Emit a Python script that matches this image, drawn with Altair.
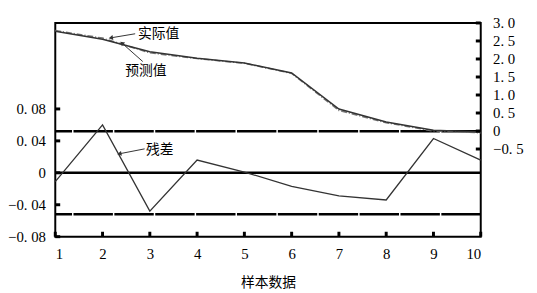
import altair as alt
import pandas as pd

samples = list(range(1, 11))
actual = [2.77, 2.55, 2.20, 2.02, 1.89, 1.61, 0.61, 0.25, 0.02, -0.03]
predicted = [2.79, 2.58, 2.17, 2.01, 1.88, 1.60, 0.57, 0.23, 0.00, -0.05]
residual = [-0.011, 0.060, -0.048, 0.016, 0.001, -0.017, -0.029, -0.034, 0.043, 0.016]
band = [0.052, -0.052]
left_ticks = [-0.08, -0.04, 0, 0.04, 0.08]
right_ticks = [-0.5, 0, 0.5, 1.0, 1.5, 2.0, 2.5, 3.0]

# annotations (data coordinates)
val_labels = ["实际值", "预测值"]
val_label_x = [2.75, 2.48]
val_label_y = [2.70, 1.66]
val_arrow_x = [2.69, 2.85]
val_arrow_y = [2.70, 1.93]
val_arrow_x2 = [2.19, 2.42]
val_arrow_y2 = [2.59, 2.43]
val_arrow_angle = [260, 311]

res_label = ["残差"]
res_label_x = [2.92]
res_label_y = [0.028]
res_arrow_x = [2.89]
res_arrow_y = [0.030]
res_arrow_x2 = [2.37]
res_arrow_y2 = [0.024]
res_arrow_angle = [259]

df = pd.DataFrame({"s": samples, "actual": actual, "predicted": predicted, "residual": residual})
band_df = pd.DataFrame({"v": band})
zero_df = pd.DataFrame({"v": [0]})
lt_df = pd.DataFrame({"v": left_ticks})
rt_df = pd.DataFrame({"v": right_ticks})
st_df = pd.DataFrame({"s": samples})
vlab_df = pd.DataFrame({"t": val_labels, "x": val_label_x, "y": val_label_y})
varr_df = pd.DataFrame({"x": val_arrow_x, "y": val_arrow_y, "x2": val_arrow_x2, "y2": val_arrow_y2, "ang": val_arrow_angle})
rlab_df = pd.DataFrame({"t": res_label, "x": res_label_x, "y": res_label_y})
rarr_df = pd.DataFrame({"x": res_arrow_x, "y": res_arrow_y, "x2": res_arrow_x2, "y2": res_arrow_y2, "ang": res_arrow_angle})

W, H = 432, 217
serif = "Liberation Serif"
cjk = "Noto Sans CJK SC"

x_scale = alt.Scale(domain=[1, 10], nice=False, zero=False)
res_scale = alt.Scale(domain=[-0.08, 0.1877], nice=False, zero=False)
val_scale = alt.Scale(domain=[-2.934, 3.0], nice=False, zero=False)

x_axis = alt.Axis(values=samples, grid=False, domain=False, ticks=False, labelFont=serif,
                  labelFontSize=15, labelColor="black", labelPadding=10, title="样本数据",
                  titleFont=cjk, titleFontSize=14, titleFontWeight="normal", titleColor="black",
                  titlePadding=15)
left_axis = alt.Axis(values=left_ticks, grid=False, domain=False, ticks=False, labelFont=serif,
                     labelFontSize=15, labelColor="black", labelPadding=10, title=None,
                     labelExpr="datum.value == 0 ? '0' : replace(format(datum.value, '.2f'), '.', '. ')")
right_axis = alt.Axis(orient="right", values=right_ticks, grid=False, domain=False, ticks=False,
                      labelFont=serif, labelFontSize=15, labelColor="black", labelPadding=12,
                      title=None,
                      labelExpr="datum.value == 0 ? '0' : replace(format(datum.value, '.1f'), '.', '. ')")


def X(field):
    return alt.X(field, scale=x_scale, axis=x_axis, title="样本数据")


def YR(field):
    return alt.Y(field, scale=res_scale, axis=left_axis, title=None)


def YV(field):
    return alt.Y(field, scale=val_scale, axis=right_axis, title=None)


res_line = alt.Chart(df).mark_line(color="#333333", strokeWidth=1.3).encode(
    x=X("s:Q"), y=YR("residual:Q"))
zero_rule = alt.Chart(zero_df).mark_rule(color="black", strokeWidth=2.5).encode(y=YR("v:Q"))
band_rule = alt.Chart(band_df).mark_rule(color="black", strokeWidth=2.5, strokeDash=[40, 1.5]).encode(
    y=YR("v:Q"))
lt_rule = alt.Chart(lt_df).mark_rule(color="black", strokeWidth=3).encode(
    y=YR("v:Q"), x=alt.value(0), x2=alt.value(5))
st_rule = alt.Chart(st_df).mark_rule(color="black", strokeWidth=3).encode(
    x=X("s:Q"), y=alt.value(H), y2=alt.value(H - 5))
res_text = alt.Chart(rlab_df).mark_text(font=cjk, fontSize=14, align="left", baseline="middle",
                                        color="black").encode(
    x=X("x:Q"), y=YR("y:Q"), text="t:N")
res_arrow = alt.Chart(rarr_df).mark_rule(color="#333333", strokeWidth=1).encode(
    x=X("x:Q"), y=YR("y:Q"), x2="x2:Q", y2="y2:Q")
res_head = alt.Chart(rarr_df).mark_point(shape="triangle", filled=True, color="#333333", size=25,
                                         opacity=1).encode(
    x=X("x2:Q"), y=YR("y2:Q"), angle=alt.Angle("ang:Q", scale=None))

res_layer = alt.layer(band_rule, zero_rule, res_line, lt_rule, st_rule, res_arrow, res_head, res_text)

act_line = alt.Chart(df).mark_line(color="#333333", strokeWidth=1.5).encode(
    x=X("s:Q"), y=YV("actual:Q"))
pred_line = alt.Chart(df).mark_line(color="#777777", strokeWidth=1.5, strokeDash=[6, 2, 1, 2]).encode(
    x=X("s:Q"), y=YV("predicted:Q"))
rt_rule = alt.Chart(rt_df).mark_rule(color="black", strokeWidth=3).encode(
    y=YV("v:Q"), x=alt.value(W - 5), x2=alt.value(W))
val_text = alt.Chart(vlab_df).mark_text(font=cjk, fontSize=14, align="left", baseline="middle",
                                        color="black").encode(
    x=X("x:Q"), y=YV("y:Q"), text="t:N")
val_arrow = alt.Chart(varr_df).mark_rule(color="#333333", strokeWidth=1).encode(
    x=X("x:Q"), y=YV("y:Q"), x2="x2:Q", y2="y2:Q")
val_head = alt.Chart(varr_df).mark_point(shape="triangle", filled=True, color="#333333", size=25,
                                         opacity=1).encode(
    x=X("x2:Q"), y=YV("y2:Q"), angle=alt.Angle("ang:Q", scale=None))

val_layer = alt.layer(pred_line, act_line, rt_rule, val_arrow, val_head, val_text)

chart = alt.layer(res_layer, val_layer).resolve_scale(y="independent").properties(
    width=W, height=H,
    padding={"left": 48, "top": 13, "right": 49, "bottom": 56},
    autosize=alt.AutoSizeParams(type="none"),
    background="white",
).configure_view(stroke="black", strokeWidth=2)

chart.save("out.html", embed_options={"renderer": "svg", "actions": False})
